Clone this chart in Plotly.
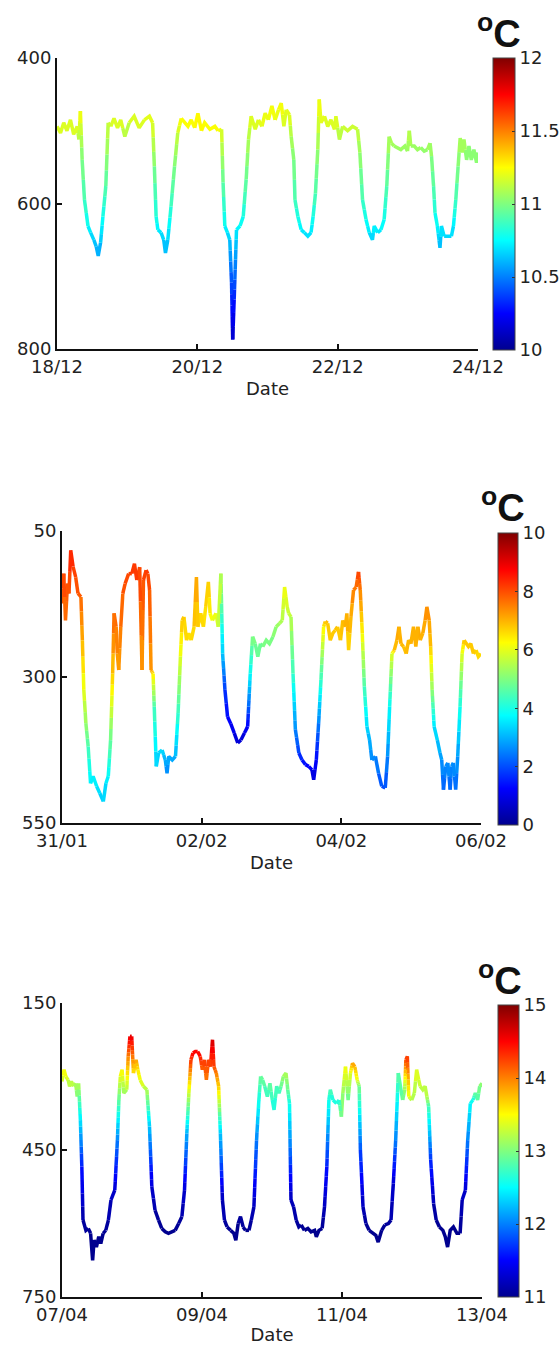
import numpy as np
import pandas as pd
import plotly.graph_objects as go
from plotly.colors import sample_colorscale

# MATLAB-style jet colour map
JET = [[0.0, 'rgb(0,0,143)'], [0.125, 'rgb(0,0,255)'], [0.375, 'rgb(0,255,255)'],
       [0.625, 'rgb(255,255,0)'], [0.875, 'rgb(255,0,0)'], [1.0, 'rgb(128,0,0)']]

# ---------------- Panel 1: 18/12 - 24/12 ----------------
p1_start = "2012-12-18"
p1_hours = [0.0, 1.2, 2.3, 3.4, 4.6, 5.7, 6.9, 7.5, 8.0, 8.6,
            9.4, 10.6, 11.5, 12.6, 13.4, 14.1, 14.9, 15.7, 16.7, 17.5,
            18.4, 19.5, 20.7, 21.8, 23.2, 24.7, 26.4, 28.1, 29.9, 31.6,
            32.7, 33.3, 33.9, 34.5, 35.6, 36.5, 37.1, 37.9, 39.0, 40.2,
            41.3, 42.5, 43.6, 44.8, 45.9, 47.1, 48.2, 49.4, 50.5, 52.3,
            54.0, 55.1, 56.3, 56.8, 57.4, 58.3, 59.1, 59.7, 60.1, 60.6,
            61.4, 62.6, 63.7, 64.7, 65.5, 66.4, 67.8, 68.9, 70.1, 71.2,
            72.3, 73.5, 74.6, 75.8, 76.7, 77.6, 78.4, 79.5, 80.1, 81.0,
            81.4, 82.4, 83.5, 84.6, 85.8, 86.9, 87.6, 88.4, 89.2, 89.7,
            90.3, 91.5, 92.6, 93.7, 94.9, 95.4, 96.6, 97.7, 99.4, 101.1,
            102.8, 103.6, 104.5, 105.7, 106.8, 107.9, 108.5, 109.7, 110.8, 111.9,
            112.8, 113.6, 114.4, 115.3, 116.5, 117.6, 119.0, 119.9, 120.5, 121.0,
            122.2, 123.3, 124.4, 125.6, 126.7, 127.6, 128.1, 128.8, 129.3, 130.1,
            131.0, 131.5, 132.4, 133.5, 134.9, 135.6, 136.4, 137.2, 137.9, 138.7,
            139.2, 140.1, 140.9, 141.7, 142.6, 143.5, 144.0]
p1_depth = [494, 503, 489, 500, 485, 505, 494, 512, 473, 540,
            595, 631, 640, 650, 659, 672, 654, 618, 576, 489,
            494, 483, 496, 485, 508, 489, 480, 496, 485, 480,
            489, 549, 618, 636, 640, 650, 668, 650, 604, 549,
            503, 483, 489, 494, 485, 496, 476, 500, 489, 498,
            494, 500, 498, 571, 631, 640, 650, 709, 787, 732,
            636, 631, 618, 567, 512, 480, 498, 485, 494, 476,
            485, 466, 485, 471, 462, 494, 471, 478, 508, 540,
            595, 618, 636, 640, 645, 640, 618, 586, 526, 457,
            489, 480, 494, 485, 498, 480, 512, 494, 500, 494,
            498, 530, 595, 622, 640, 650, 631, 640, 636, 622,
            576, 508, 517, 521, 523, 526, 521, 528, 500, 521,
            521, 526, 523, 528, 526, 517, 535, 576, 613, 631,
            661, 631, 645, 645, 645, 631, 595, 549, 510, 530,
            512, 540, 521, 540, 526, 544, 530]
p1_temp = [11.2, 11.15, 11.2, 11.15, 11.2, 11.15, 11.2, 11.1, 11.25, 11.0,
           10.88, 10.75, 10.7, 10.65, 10.62, 10.58, 10.63, 10.78, 10.92, 11.15,
           11.15, 11.2, 11.15, 11.2, 11.1, 11.15, 11.2, 11.15, 11.2, 11.2,
           11.2, 11.0, 10.8, 10.72, 10.7, 10.66, 10.6, 10.66, 10.85, 11.0,
           11.15, 11.25, 11.25, 11.25, 11.25, 11.25, 11.28, 11.25, 11.25, 11.25,
           11.25, 11.25, 11.2, 10.95, 10.75, 10.7, 10.65, 10.4, 10.12, 10.3,
           10.72, 10.75, 10.8, 10.95, 11.1, 11.2, 11.15, 11.2, 11.2, 11.22,
           11.2, 11.25, 11.2, 11.22, 11.25, 11.15, 11.2, 11.2, 11.1, 11.0,
           10.88, 10.8, 10.72, 10.7, 10.68, 10.7, 10.8, 10.9, 11.05, 11.25,
           11.18, 11.2, 11.15, 11.2, 11.15, 11.2, 11.1, 11.15, 11.15, 11.15,
           11.15, 11.05, 10.88, 10.78, 10.7, 10.65, 10.75, 10.7, 10.72, 10.78,
           10.92, 11.1, 11.08, 11.06, 11.05, 11.05, 11.06, 11.05, 11.12, 11.06,
           11.06, 11.05, 11.05, 11.04, 11.05, 11.08, 11.02, 10.92, 10.8, 10.75,
           10.6, 10.72, 10.68, 10.68, 10.68, 10.72, 10.88, 11.0, 11.1, 11.05,
           11.1, 11.0, 11.06, 11.0, 11.05, 11.0, 11.05]
p1_depth_range = [800, 400]
p1_depth_ticks = [400, 600, 800]
p1_temp_range = [10, 12]
p1_temp_ticks = [10, 10.5, 11, 11.5, 12]
p1_date_labels = ["18/12", "20/12", "22/12", "24/12"]

# ---------------- Panel 2: 31/01 - 06/02 ----------------
p2_start = "2013-01-31"
p2_hours = [0.0, 0.6, 1.2, 1.9, 2.4, 3.0, 3.8, 4.7, 5.5, 6.5,
            7.0, 7.5, 8.2, 9.0, 9.8, 10.7, 11.9, 13.0, 14.2, 15.1,
            15.9, 16.7, 17.4, 17.9, 18.6, 19.0, 19.5, 20.2, 20.9, 21.7,
            22.9, 24.0, 24.9, 25.7, 26.7, 27.5, 28.0, 28.9, 29.5, 30.1,
            30.6, 31.3, 31.7, 32.4, 33.2, 34.4, 35.5, 36.1, 36.7, 37.9,
            39.0, 39.9, 40.7, 41.3, 41.9, 42.8, 43.6, 44.4, 45.4, 46.2,
            46.7, 47.7, 48.6, 49.4, 50.3, 50.9, 51.7, 52.9, 53.7, 54.6,
            55.2, 56.0, 56.9, 58.0, 59.2, 60.4, 61.5, 62.7, 63.8, 64.7,
            65.5, 66.4, 67.3, 68.2, 69.0, 70.2, 71.3, 72.5, 73.6, 74.8,
            75.7, 76.5, 77.4, 77.9, 78.7, 79.4, 80.2, 81.4, 82.5, 83.7,
            84.8, 85.9, 86.5, 87.4, 88.2, 89.0, 89.9, 90.5, 91.3, 92.2,
            93.1, 93.9, 94.7, 95.7, 96.5, 97.4, 97.9, 98.5, 99.3, 100.2,
            101.1, 101.9, 102.5, 103.2, 103.9, 104.8, 105.7, 106.5, 107.7, 108.8,
            109.9, 111.1, 111.9, 112.6, 113.4, 114.2, 115.1, 115.8, 116.5, 117.4,
            118.3, 119.1, 119.9, 120.8, 121.6, 122.3, 123.1, 124.0, 124.8, 125.4,
            126.2, 126.7, 127.2, 127.9, 129.0, 129.9, 130.5, 131.1, 131.9, 132.6,
            133.4, 133.9, 134.5, 135.3, 136.0, 136.8, 137.5, 138.2, 138.9, 139.7,
            140.5, 141.4, 142.3, 143.1, 144.0]
p2_depth = [174, 123, 203, 140, 157, 83, 111, 129, 157, 163,
            237, 322, 379, 419, 482, 470, 487, 499, 513, 482,
            470, 408, 294, 191, 214, 260, 288, 214, 157, 140,
            123, 123, 106, 134, 112, 288, 134, 117, 123, 151,
            288, 294, 351, 453, 430, 425, 442, 465, 436, 442,
            436, 362, 265, 203, 197, 237, 225, 237, 214, 129,
            214, 191, 214, 180, 137, 191, 203, 191, 214, 123,
            260, 322, 368, 380, 396, 413, 408, 396, 385, 294,
            231, 243, 265, 243, 248, 237, 243, 231, 214, 208,
            203, 146, 180, 191, 197, 294, 390, 430, 442, 450,
            453, 459, 476, 442, 379, 305, 214, 205, 208, 237,
            225, 220, 214, 237, 203, 214, 191, 254, 197, 151,
            146, 120, 151, 225, 316, 385, 408, 442, 436, 465,
            487, 490, 436, 351, 260, 254, 237, 214, 243, 248,
            260, 237, 243, 214, 248, 214, 237, 225, 203, 180,
            203, 248, 322, 385, 408, 430, 442, 493, 453, 447,
            493, 453, 447, 493, 436, 351, 260, 237, 243, 248,
            243, 260, 254, 265, 260]
p2_temp = [7.8, 8.2, 7.6, 8.0, 7.9, 8.5, 8.2, 8.0, 7.9, 7.8,
           7.0, 6.0, 5.2, 4.5, 3.6, 3.7, 3.5, 3.4, 3.2, 3.5,
           3.7, 4.8, 6.8, 7.8, 7.6, 7.3, 7.2, 7.6, 7.9, 8.0,
           8.1, 8.1, 8.3, 8.0, 8.2, 7.2, 8.0, 8.2, 8.1, 7.9,
           7.2, 6.5, 4.5, 3.2, 3.4, 3.4, 3.0, 2.6, 3.0, 2.9,
           3.0, 4.3, 6.0, 6.8, 6.8, 6.5, 6.6, 6.5, 6.7, 7.2,
           6.6, 6.7, 6.5, 6.6, 6.8, 6.3, 6.1, 6.0, 5.8, 5.6,
           3.2, 1.8, 1.3, 1.2, 1.0, 0.8, 0.8, 1.0, 1.2, 3.8,
           5.0, 4.9, 4.7, 4.9, 4.9, 5.0, 4.9, 5.0, 5.2, 5.3,
           5.5, 6.2, 5.8, 5.7, 5.6, 4.3, 2.6, 1.8, 1.5, 1.3,
           1.2, 1.1, 0.8, 1.3, 2.5, 4.3, 6.4, 6.9, 6.9, 6.7,
           6.8, 6.8, 6.9, 6.7, 7.0, 6.9, 7.1, 6.6, 7.0, 7.5,
           7.6, 8.2, 7.5, 6.3, 4.5, 3.4, 3.0, 2.6, 2.6, 2.3,
           2.0, 2.0, 2.6, 3.8, 6.0, 6.8, 7.0, 7.1, 6.9, 6.9,
           6.8, 7.0, 6.9, 7.1, 6.9, 7.1, 7.0, 7.0, 7.2, 7.5,
           7.2, 6.8, 5.2, 3.5, 3.2, 2.9, 2.7, 2.2, 2.6, 2.7,
           2.2, 2.6, 2.7, 2.2, 2.8, 4.0, 6.0, 6.8, 6.8, 6.8,
           6.8, 6.7, 6.7, 6.6, 6.6]
p2_depth_range = [550, 50]
p2_depth_ticks = [50, 300, 550]
p2_temp_range = [0, 10]
p2_temp_ticks = [0, 2, 4, 6, 8, 10]
p2_date_labels = ["31/01", "02/02", "04/02", "06/02"]

# ---------------- Panel 3: 07/04 - 13/04 ----------------
p3_start = "2013-04-07"
p3_hours = [0.0, 0.7, 1.3, 2.1, 2.6, 3.2, 4.0, 4.7, 5.2, 5.7,
            6.3, 6.8, 7.2, 8.2, 9.0, 9.8, 10.5, 11.0, 11.8, 12.6,
            13.3, 14.1, 15.0, 15.9, 16.8, 18.1, 19.0, 19.5, 20.0, 20.6,
            21.2, 22.2, 22.7, 23.3, 23.9, 24.5, 25.4, 26.0, 26.8, 27.9,
            29.1, 30.0, 30.8, 31.9, 33.1, 34.2, 35.4, 36.5, 37.7, 38.8,
            40.0, 41.1, 42.0, 42.8, 43.5, 44.2, 44.9, 45.7, 46.5, 47.4,
            48.1, 48.8, 49.5, 50.2, 50.9, 51.6, 52.1, 52.9, 53.7, 54.3,
            55.0, 55.7, 56.6, 57.8, 58.9, 59.6, 60.4, 61.2, 62.1, 62.9,
            64.1, 64.9, 65.8, 66.7, 67.5, 68.1, 68.8, 69.5, 70.4, 71.3,
            72.1, 72.7, 73.6, 74.4, 75.1, 75.9, 76.8, 77.4, 78.0, 78.5,
            79.4, 80.3, 81.2, 82.0, 83.1, 84.3, 85.4, 86.6, 87.2, 88.1,
            89.2, 90.0, 90.8, 91.5, 92.0, 92.9, 94.1, 95.0, 95.8, 96.3,
            97.2, 98.1, 98.9, 99.6, 100.4, 101.2, 101.9, 102.3, 103.2, 104.2,
            105.3, 106.5, 107.6, 108.4, 109.6, 110.7, 111.9, 112.8, 113.6, 114.4,
            115.3, 116.1, 116.8, 117.5, 117.9, 118.4, 118.9, 119.9, 120.8, 121.6,
            122.3, 122.8, 123.7, 124.5, 125.1, 125.7, 126.4, 127.4, 128.3, 129.4,
            130.6, 131.4, 132.2, 133.1, 134.2, 135.4, 136.5, 137.2, 138.3, 139.1,
            140.0, 140.9, 141.7, 142.5, 143.2, 144.0]
p3_depth = [310, 286, 300, 307, 320, 310, 320, 314, 341, 314,
            389, 484, 593, 614, 610, 620, 675, 634, 648, 627,
            641, 620, 614, 593, 552, 532, 430, 348, 300, 286,
            334, 327, 259, 218, 218, 293, 266, 286, 307, 320,
            327, 402, 525, 573, 593, 610, 617, 620, 617, 614,
            600, 586, 532, 416, 334, 266, 252, 249, 249, 259,
            286, 266, 307, 266, 280, 225, 280, 293, 320, 416,
            552, 593, 607, 614, 620, 634, 600, 586, 607, 614,
            614, 593, 566, 430, 348, 300, 307, 320, 341, 314,
            348, 368, 320, 334, 320, 300, 293, 327, 355, 552,
            566, 593, 607, 603, 614, 610, 617, 614, 627, 614,
            610, 566, 484, 348, 327, 348, 355, 348, 382, 334,
            280, 348, 293, 273, 280, 307, 320, 450, 566, 600,
            614, 620, 624, 638, 614, 603, 600, 593, 518, 430,
            293, 320, 348, 327, 266, 259, 341, 348, 334, 286,
            307, 320, 327, 320, 341, 361, 470, 559, 593, 607,
            614, 627, 648, 614, 607, 620, 620, 552, 532, 430,
            355, 348, 334, 348, 320, 314]
p3_temp = [13.3, 13.5, 13.4, 13.3, 13.2, 13.3, 13.2, 13.2, 13.0, 13.2,
           12.4, 11.6, 11.1, 11.05, 11.05, 11.0, 10.95, 11.0, 10.97, 11.0,
           10.97, 11.0, 11.05, 11.1, 11.2, 11.3, 12.0, 12.9, 13.4, 13.5,
           13.1, 13.2, 14.0, 14.6, 14.6, 13.6, 13.9, 13.6, 13.4, 13.3,
           13.2, 12.3, 11.3, 11.1, 11.05, 11.0, 11.0, 11.0, 11.0, 11.0,
           11.05, 11.1, 11.3, 12.2, 13.3, 14.3, 14.5, 14.5, 14.5, 14.4,
           14.1, 14.3, 14.0, 14.3, 14.2, 14.7, 14.2, 14.0, 13.7, 12.3,
           11.2, 11.1, 11.05, 11.0, 11.0, 10.97, 11.05, 11.1, 11.05, 11.0,
           11.0, 11.1, 11.2, 12.0, 12.6, 12.9, 12.9, 12.8, 12.7, 12.9,
           12.7, 12.6, 12.8, 12.7, 12.9, 13.1, 13.2, 12.9, 12.6, 11.2,
           11.15, 11.1, 11.05, 11.05, 11.0, 11.0, 11.0, 11.0, 10.97, 11.0,
           11.0, 11.2, 11.6, 12.6, 12.8, 12.6, 12.6, 12.7, 13.0, 13.1,
           13.5, 12.9, 13.4, 13.9, 13.8, 13.4, 13.0, 11.8, 11.2, 11.05,
           11.0, 11.0, 11.0, 10.97, 11.0, 11.05, 11.05, 11.1, 11.3, 12.0,
           12.9, 12.8, 12.9, 13.1, 14.2, 14.3, 13.4, 13.2, 13.2, 13.4,
           13.3, 13.3, 13.2, 13.3, 13.2, 12.8, 11.7, 11.15, 11.05, 11.0,
           11.0, 10.97, 10.95, 11.0, 11.0, 11.0, 11.0, 11.2, 11.3, 12.0,
           12.5, 12.6, 12.9, 12.8, 13.0, 13.1]
p3_depth_range = [750, 150]
p3_depth_ticks = [150, 450, 750]
p3_temp_range = [11, 15]
p3_temp_ticks = [11, 12, 13, 14, 15]
p3_date_labels = ["07/04", "09/04", "11/04", "13/04"]

W, H = 559, 1345
FONT = "DejaVu Sans"
TXT = "#222222"

# layout (pixel boxes) for each panel: plot area and colour bar
panels = [
    dict(start=p1_start, hours=p1_hours, depth=p1_depth, temp=p1_temp,
         drange=p1_depth_range, dticks=p1_depth_ticks, trange=p1_temp_range,
         tticks=p1_temp_ticks, dlabels=p1_date_labels,
         box=(57, 478, 58, 349), cb=(493, 22, 58, 350), unit=(499, 31)),
    dict(start=p2_start, hours=p2_hours, depth=p2_depth, temp=p2_temp,
         drange=p2_depth_range, dticks=p2_depth_ticks, trange=p2_temp_range,
         tticks=p2_temp_ticks, dlabels=p2_date_labels,
         box=(62, 481, 531, 823), cb=(498, 20, 533, 825), unit=(503, 505)),
    dict(start=p3_start, hours=p3_hours, depth=p3_depth, temp=p3_temp,
         drange=p3_depth_range, dticks=p3_depth_ticks, trange=p3_temp_range,
         tticks=p3_temp_ticks, dlabels=p3_date_labels,
         box=(62, 482, 1003, 1297), cb=(498, 21, 1005, 1297), unit=(500, 978)),
]

fig = go.Figure()
layout = dict(width=W, height=H, margin=dict(l=0, r=0, t=0, b=0, autoexpand=False),
              paper_bgcolor="white", plot_bgcolor="white", showlegend=False,
              font=dict(family=FONT, size=18, color=TXT), annotations=[])


def to_x(start, h):
    return (pd.Timestamp(start) + pd.Timedelta(hours=float(h))).strftime("%Y-%m-%d %H:%M:%S.%f")


for k, p in enumerate(panels):
    n = "" if k == 0 else str(k + 1)
    xa, ya = "x" + n, "y" + n
    assert len(p["hours"]) == len(p["depth"]) == len(p["temp"]), (k, len(p["hours"]), len(p["depth"]), len(p["temp"]))
    tmin, tmax = p["trange"]
    # build colour-graded pieces along the line
    pieces = []
    hs, ds, ts = p["hours"], p["depth"], p["temp"]
    nb = 128
    for i in range(len(hs) - 1):
        steps = max(1, int(np.ceil(abs(ts[i + 1] - ts[i]) / (tmax - tmin) * 30)))
        for s in range(steps):
            a, b = s / steps, (s + 1) / steps
            tm = ts[i] + (ts[i + 1] - ts[i]) * (a + b) / 2
            fr = min(max((tm - tmin) / (tmax - tmin), 0), 1)
            bi = int(round(fr * (nb - 1)))
            pa = (hs[i] + (hs[i + 1] - hs[i]) * a, ds[i] + (ds[i + 1] - ds[i]) * a)
            pb = (hs[i] + (hs[i + 1] - hs[i]) * b, ds[i] + (ds[i + 1] - ds[i]) * b)
            if pieces and pieces[-1][0] == bi:
                pieces[-1][1].append(pb)
            else:
                pieces.append([bi, [pa, pb]])
    groups = {}
    for bi, pts in pieces:
        g = groups.setdefault(bi, ([], []))
        if g[0]:
            g[0].append(None)
            g[1].append(None)
        g[0].extend(to_x(p["start"], h) for h, _ in pts)
        g[1].extend(d for _, d in pts)
    for bi, (gx, gy) in groups.items():
        col = sample_colorscale(JET, [bi / (nb - 1)])[0]
        fig.add_trace(go.Scatter(x=gx, y=gy, mode="lines", xaxis=xa, yaxis=ya,
                                 line=dict(color=col, width=3.5), hoverinfo="skip",
                                 connectgaps=False))
    # colour bar (dummy trace)
    cbx, cbt, cby0, cby1 = p["cb"]
    fig.add_trace(go.Scatter(
        x=[None], y=[None], mode="markers", xaxis=xa, yaxis=ya, hoverinfo="skip",
        marker=dict(color=[tmin, tmax], cmin=tmin, cmax=tmax, colorscale=JET, showscale=True,
                    colorbar=dict(x=cbx / W, xanchor="left", xpad=0, ypad=0,
                                  y=1 - (cby0 + cby1) / 2 / H, yanchor="middle",
                                  len=(cby1 - cby0) / H, lenmode="fraction",
                                  thickness=cbt, thicknessmode="pixels",
                                  outlinewidth=1, outlinecolor="#444",
                                  tickvals=p["tticks"], ticktext=[f"{v:g}" for v in p["tticks"]],
                                  ticks="inside", ticklen=3, tickcolor="#333",
                                  tickfont=dict(family=FONT, size=18, color=TXT)))))
    x0, x1, y0, y1 = p["box"]
    start = pd.Timestamp(p["start"])
    tickvals = [(start + pd.Timedelta(days=2 * j)).strftime("%Y-%m-%d") for j in range(len(p["dlabels"]))]
    xr = [tickvals[0], tickvals[-1]]
    layout["xaxis" + n] = dict(domain=[x0 / W, x1 / W], anchor=ya, type="date", range=xr,
                               tickvals=tickvals, ticktext=p["dlabels"], automargin=False,
                               showline=True, linecolor="#111", linewidth=2, mirror=False,
                               showgrid=False, zeroline=False, ticks="inside", ticklen=5,
                               tickcolor="#111", tickwidth=1.5,
                               tickfont=dict(family=FONT, size=18, color=TXT),
                               title=dict(text="Date", standoff=7,
                                          font=dict(family=FONT, size=18, color=TXT)))
    layout["yaxis" + n] = dict(domain=[1 - y1 / H, 1 - y0 / H], anchor=xa, range=p["drange"],
                               tickvals=p["dticks"], showline=True, linecolor="#111",
                               linewidth=2, mirror=False, showgrid=False, zeroline=False,
                               ticks="inside", ticklen=5, tickcolor="#111", tickwidth=1.5,
                               automargin=False,
                               tickfont=dict(family=FONT, size=18, color=TXT))
    ux, uy = p["unit"]
    layout["annotations"].append(dict(text="<b><sup>o</sup>C</b>", x=ux / W, y=1 - uy / H,
                                      xref="paper", yref="paper", xanchor="center",
                                      yanchor="middle", showarrow=False,
                                      font=dict(family="Liberation Sans", size=38,
                                                color="#111")))

fig.update_layout(**layout)
fig.write_html("out.html")
